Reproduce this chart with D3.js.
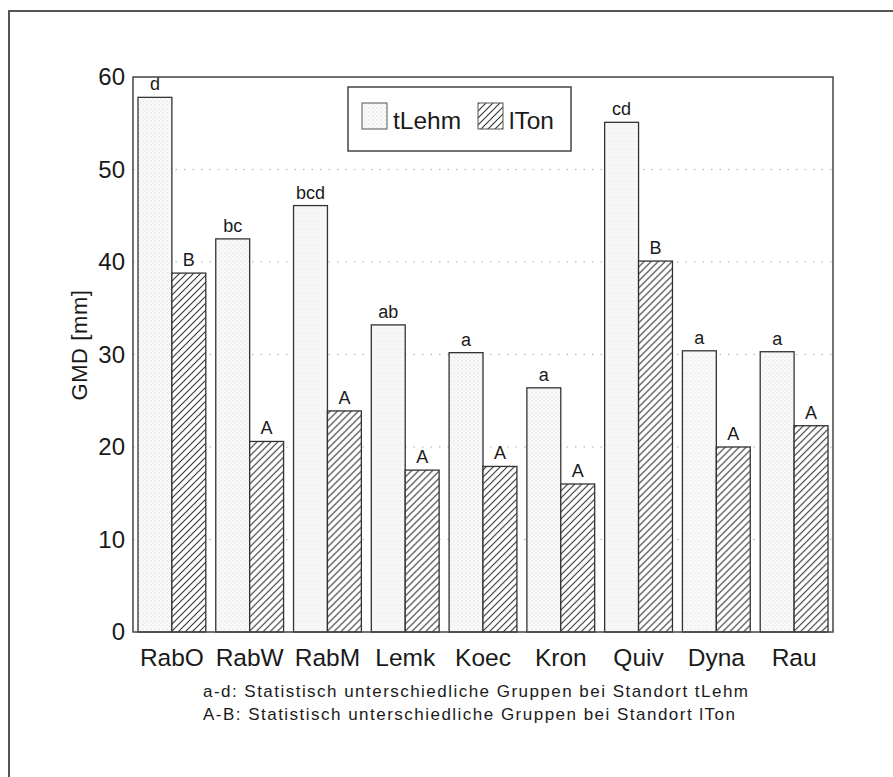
<!DOCTYPE html>
<html>
<head>
<meta charset="utf-8">
<script src="https://cdn.jsdelivr.net/npm/d3@7"></script>
<style>
  body { margin: 0; background: #fff; }
  text { font-family: "Liberation Sans", Arial, sans-serif; fill: #1a1a1a; }
</style>
</head>
<body>
<div id="chart"></div>
<script>
// Sites, one group of two bars each
var categories = ["RabO", "RabW", "RabM", "Lemk", "Koec", "Kron", "Quiv", "Dyna", "Rau"];
var seriesNames = ["tLehm", "lTon"];
var tLehm = [57.8, 42.5, 46.1, 33.2, 30.2, 26.4, 55.1, 30.4, 30.3];
var lTon = [38.8, 20.6, 23.9, 17.5, 17.9, 16.0, 40.1, 20.0, 22.3];
// significance letters above each bar
var tLehmGroups = ["d", "bc", "bcd", "ab", "a", "a", "cd", "a", "a"];
var lTonGroups = ["B", "A", "A", "A", "A", "A", "B", "A", "A"];
var yTicks = [0, 10, 20, 30, 40, 50, 60];
var gridTicks = [10, 20, 30, 40, 50];
var yLabel = "GMD [mm]";
var footnotes = [
  "a-d: Statistisch unterschiedliche Gruppen bei Standort tLehm",
  "A-B: Statistisch unterschiedliche Gruppen bei Standort lTon"
];

var width = 893, height = 777;
var plot = {left: 133, right: 833, top: 77, bottom: 632};

var svg = d3.select("#chart").append("svg")
  .attr("width", width)
  .attr("height", height);

var defs = svg.append("defs");

// fine stipple for tLehm
var dots = defs.append("pattern")
  .attr("id", "dots")
  .attr("patternUnits", "userSpaceOnUse")
  .attr("width", 4)
  .attr("height", 4);
dots.append("rect").attr("width", 4).attr("height", 4).attr("fill", "#fbfbfb");
dots.append("circle").attr("cx", 1).attr("cy", 1).attr("r", 0.6).attr("fill", "#c4c4c4");
dots.append("circle").attr("cx", 3).attr("cy", 3).attr("r", 0.5).attr("fill", "#d6d6d6");

// diagonal hatch for lTon
var hatch = defs.append("pattern")
  .attr("id", "hatch")
  .attr("patternUnits", "userSpaceOnUse")
  .attr("width", 7)
  .attr("height", 7);
hatch.append("rect").attr("width", 7).attr("height", 7).attr("fill", "#fff");
hatch.append("path")
  .attr("d", "M0,7 L7,0 M-1,1 L1,-1 M6,8 L8,6")
  .attr("stroke", "#333")
  .attr("stroke-width", 1.1);

var fills = {tLehm: "url(#dots)", lTon: "url(#hatch)"};

// outer frame (only top and left edges are in the picture)
svg.append("path")
  .attr("d", "M9," + height + " L9,11 L" + width + ",11")
  .attr("fill", "none")
  .attr("stroke", "#555")
  .attr("stroke-width", 2);

var x0 = d3.scaleBand()
  .domain(categories)
  .range([plot.left, plot.right])
  .paddingInner(0.128)
  .paddingOuter(0.064);

var x1 = d3.scaleBand()
  .domain(seriesNames)
  .range([0, x0.bandwidth()]);

var y = d3.scaleLinear()
  .domain([0, 60])
  .range([plot.bottom, plot.top]);

// dotted grid lines
svg.append("g").selectAll("line")
  .data(gridTicks)
  .enter().append("line")
  .attr("x1", plot.left)
  .attr("x2", plot.right)
  .attr("y1", d => y(d))
  .attr("y2", d => y(d))
  .attr("stroke", "#aaa")
  .attr("stroke-width", 1.2)
  .attr("stroke-dasharray", "1.5,7");

var rows = categories.map((c, i) => ({
  cat: c,
  bars: [
    {key: "tLehm", value: tLehm[i], label: tLehmGroups[i]},
    {key: "lTon", value: lTon[i], label: lTonGroups[i]}
  ]
}));

var group = svg.append("g").selectAll(".group")
  .data(rows)
  .enter().append("g")
  .attr("class", "group")
  .attr("transform", d => "translate(" + x0(d.cat) + ",0)");

var bar = group.selectAll(".bar")
  .data(d => d.bars)
  .enter().append("g")
  .attr("class", "bar");

bar.append("rect")
  .attr("x", d => x1(d.key))
  .attr("y", d => y(d.value))
  .attr("width", x1.bandwidth())
  .attr("height", d => y(0) - y(d.value))
  .attr("fill", d => fills[d.key])
  .attr("stroke", "#333")
  .attr("stroke-width", 1.3);

bar.append("text")
  .attr("x", d => x1(d.key) + x1.bandwidth() / 2)
  .attr("y", d => y(d.value) - 7)
  .attr("text-anchor", "middle")
  .attr("font-size", 18)
  .text(d => d.label);

// plot frame
svg.append("rect")
  .attr("x", plot.left)
  .attr("y", plot.top)
  .attr("width", plot.right - plot.left)
  .attr("height", plot.bottom - plot.top)
  .attr("fill", "none")
  .attr("stroke", "#444")
  .attr("stroke-width", 1.5);

// y axis labels
var yAxis = svg.append("g")
  .attr("transform", "translate(" + plot.left + ",0)")
  .call(d3.axisLeft(y).tickValues(yTicks).tickSize(0).tickPadding(8));
yAxis.select(".domain").remove();
yAxis.selectAll("text")
  .attr("font-size", 24)
  .attr("font-family", "Liberation Sans, Arial, sans-serif")
  .attr("fill", "#1a1a1a");

svg.append("text")
  .attr("transform", "translate(87,345) rotate(-90)")
  .attr("text-anchor", "middle")
  .attr("font-size", 22)
  .attr("letter-spacing", 0.6)
  .text(yLabel);

// x axis labels
var xAxis = svg.append("g")
  .attr("transform", "translate(0," + plot.bottom + ")")
  .call(d3.axisBottom(x0).tickSize(0).tickPadding(17));
xAxis.select(".domain").remove();
xAxis.selectAll("text")
  .attr("font-size", 24.5)
  .attr("font-family", "Liberation Sans, Arial, sans-serif")
  .attr("fill", "#1a1a1a");

// footnotes
var noteWidths = [545, 532];
svg.append("g").selectAll("text")
  .data(footnotes)
  .enter().append("text")
  .attr("x", 203)
  .attr("y", (d, i) => 697 + i * 23)
  .attr("font-size", 17)
  .attr("textLength", (d, i) => noteWidths[i])
  .attr("lengthAdjust", "spacing")
  .text(d => d);

// legend
var legend = svg.append("g").attr("transform", "translate(348,87)");
legend.append("rect")
  .attr("width", 223)
  .attr("height", 64)
  .attr("fill", "#fff")
  .attr("stroke", "#444")
  .attr("stroke-width", 1.5);

var legendItems = [
  {key: "tLehm", sx: 14, tx: 45},
  {key: "lTon", sx: 130, tx: 161}
];
var li = legend.selectAll(".item")
  .data(legendItems)
  .enter().append("g")
  .attr("class", "item");
li.append("rect")
  .attr("x", d => d.sx)
  .attr("y", 16)
  .attr("width", 25)
  .attr("height", 26)
  .attr("fill", d => fills[d.key])
  .attr("stroke", "#555")
  .attr("stroke-width", 1);
li.append("text")
  .attr("x", d => d.tx)
  .attr("y", 42)
  .attr("font-size", 24.5)
  .text(d => d.key);
</script>
</body>
</html>
